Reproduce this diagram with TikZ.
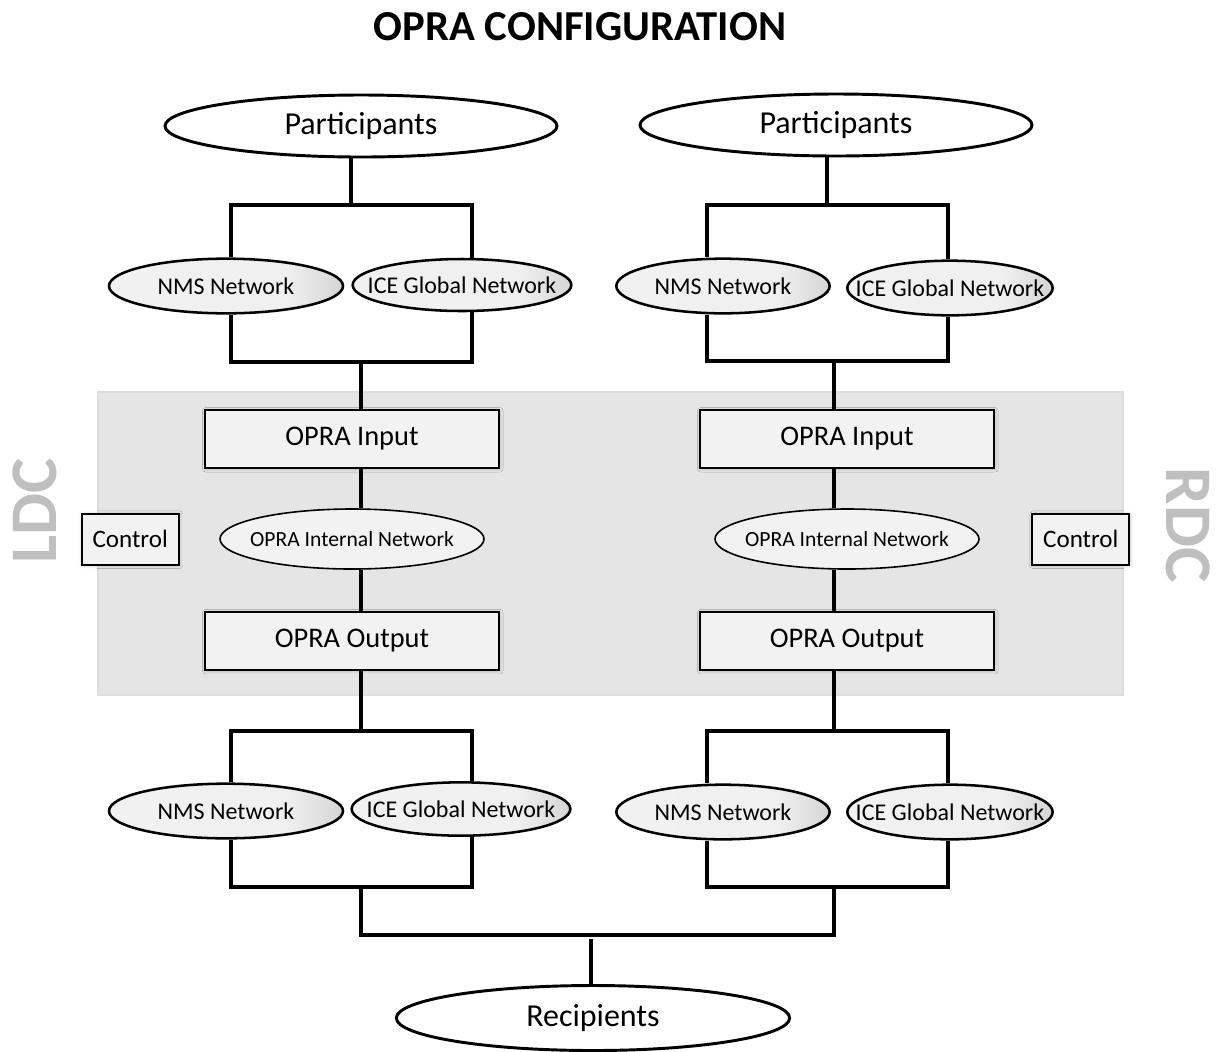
\documentclass[tikz,border=0pt]{standalone}
\usepackage{fontspec}
\setmainfont{Carlito}
\usepackage{tikz}
\usetikzlibrary{shapes,shadows.blur}
\usetikzlibrary{positioning}
\pgfdeclarehorizontalshading{netgrad}{100bp}{color(0bp)=(gray!11); color(25bp)=(gray!11); color(63bp)=(gray!12); color(70bp)=(gray!24); color(75bp)=(gray!34); color(100bp)=(gray!34)}
\tikzset{
	endstate/.style={
		ellipse,
		draw=black,
		line width=2.2pt,
		fill=white,
		inner xsep=-20pt,
		font=\fontsize{24}{28}\selectfont,
	},
	netstate/.style={
		ellipse,
		draw=black,
		line width=1.9pt,
		shading=netgrad,
		inner xsep=-20pt,
		minimum height=41pt,
		font=\fontsize{18}{21}\selectfont,
	},
	intstate/.style={
		ellipse,
		draw=black,
		line width=1.2pt,
		fill=gray!10,
		inner xsep=-30pt,
		minimum width=198pt,
		minimum height=45pt,
		font=\fontsize{16.2}{19}\selectfont,
	},
	boxstate/.style={
		rectangle,
		draw=black,
		line width=1.5pt,
		fill=gray!10,
		minimum width=220.5pt,
		minimum height=43.5pt,
		blur shadow={shadow xshift=0.6pt, shadow yshift=-0.6pt, shadow blur radius=2.5pt, shadow opacity=25},
		font=\fontsize{21.3}{25}\selectfont,
	},
	ctrlstate/.style={
		rectangle,
		draw=black,
		line width=1.5pt,
		fill=gray!10,
		minimum width=72.75pt,
		minimum height=38.25pt,
		blur shadow={shadow xshift=0.6pt, shadow yshift=-0.6pt, shadow blur radius=2.5pt, shadow opacity=25},
		font=\fontsize{18.8}{22}\selectfont,
	},
	wire/.style={
		line width=2.3pt,
		draw=black,
	},
}

\begin{document}
\begin{tikzpicture}[x=0.75pt,y=-0.75pt]
	
	\useasboundingbox (0,0) rectangle (1224,1051);
	
	% data centre band
	\node[rectangle, draw=gray!27, line width=0.8pt, fill=gray!20,
	minimum width=768.75pt, minimum height=227.25pt] (DC) at (610.5,543.5) {};
	
	\node[font=\fontsize{32}{36}\selectfont\bfseries] (TITLE) at (580,27) {OPRA CONFIGURATION};
	
	\node[rotate=90, text=gray!50, font=\fontsize{50}{54}\selectfont\bfseries] (LDC) at (35,511) {LDC};
	\node[rotate=-90, text=gray!50, font=\fontsize{50}{54}\selectfont\bfseries] (RDC) at (1188,525) {RDC};
	
	% left side
	\node[endstate, minimum width=294pt, minimum height=46.5pt] (PARTL) at (361,126) {Participants};
	
	\node[netstate, minimum width=175.5pt] (NMSLT) at (226,286) {NMS Network};
	\node[netstate, minimum width=164pt, minimum height=39pt] (ICELT) at (462,285) {ICE Global Network};
	
	\node[boxstate] (INL) at (352,439) {OPRA Input};
	
	\node[intstate,  
	below=52.5pt of INL, 
	anchor=center] (INTL) {OPRA Internal Network};
	
	\node[boxstate,  
	below=53.25pt of INTL, 
	anchor=center] (OUTL) {OPRA Output};
	
	\node[ctrlstate,  
	left=66.75pt of INTL, 
	anchor=center] (CTRLL) {Control};
	
	\node[netstate, minimum width=175.5pt] (NMSLB) at (226,811) {NMS Network};
	\node[netstate, minimum width=164pt, minimum height=40pt] (ICELB) at (461,809) {ICE Global Network};
	
	% right side
	\node[endstate, minimum width=294pt, minimum height=46.5pt] (PARTR) at (836,125) {Participants};
	
	\node[netstate, minimum width=160pt] (NMSRT) at (723,286) {NMS Network};
	\node[netstate, minimum width=154pt] (ICERT) at (950,288) {ICE Global Network};
	
	\node[boxstate] (INR) at (847,439) {OPRA Input};
	
	\node[intstate,  
	below=52.5pt of INR, 
	anchor=center] (INTR) {OPRA Internal Network};
	
	\node[boxstate,  
	below=53.25pt of INTR, 
	anchor=center] (OUTR) {OPRA Output};
	
	\node[ctrlstate,  
	right=75.75pt of INTR, 
	anchor=center] (CTRLR) {Control};
	
	\node[netstate, minimum width=160pt] (NMSRB) at (723,812) {NMS Network};
	\node[netstate, minimum width=154pt] (ICERB) at (950,812) {ICE Global Network};
	
	\node[endstate, minimum width=295pt, minimum height=48.75pt] (RECIP) at (593,1018) {Recipients};
	
	% joints
	\coordinate (JTL) at (351,205);
	\coordinate (TLA) at (231,205);
	\coordinate (TLB) at (472,205);
	\coordinate (MLA) at (231,362);
	\coordinate (MLB) at (472,362);
	\coordinate (MLJ) at (361,362);
	\coordinate (BLJ) at (361,731);
	\coordinate (BLA) at (231,731);
	\coordinate (BLB) at (472,731);
	\coordinate (CLA) at (231,887);
	\coordinate (CLB) at (472,887);
	\coordinate (CLJ) at (361,887);
	\coordinate (DLJ) at (361,935);
	
	\coordinate (JTR) at (827,205);
	\coordinate (TRA) at (707,205);
	\coordinate (TRB) at (948,205);
	\coordinate (MRA) at (707,361);
	\coordinate (MRB) at (948,361);
	\coordinate (MRJ) at (834,361);
	\coordinate (BRJ) at (834,731);
	\coordinate (BRA) at (707,731);
	\coordinate (BRB) at (948,731);
	\coordinate (CRA) at (707,887);
	\coordinate (CRB) at (948,887);
	\coordinate (CRJ) at (834,887);
	\coordinate (DRJ) at (834,935);
	
	\coordinate (RJ) at (591,939);
	
	\draw[wire] (PARTL.south -| JTL) -- (JTL);
	\draw[wire] (NMSLT.north -| TLA) -- (TLA) -- (TLB) -- (ICELT.north -| TLB);
	\draw[wire] (NMSLT.south -| MLA) -- (MLA) -- (MLB) -- (ICELT.south -| MLB);
	\draw[wire] (MLJ) -- (INL.north -| MLJ);
	\draw[wire] (INL.south -| MLJ) -- (INTL.north -| MLJ);
	\draw[wire] (INTL.south -| MLJ) -- (OUTL.north -| MLJ);
	\draw[wire] (OUTL.south -| MLJ) -- (BLJ);
	\draw[wire] (NMSLB.north -| BLA) -- (BLA) -- (BLB) -- (ICELB.north -| BLB);
	\draw[wire] (NMSLB.south -| CLA) -- (CLA) -- (CLB) -- (ICELB.south -| CLB);
	
	\draw[wire] (PARTR.south -| JTR) -- (JTR);
	\draw[wire] (NMSRT.north -| TRA) -- (TRA) -- (TRB) -- (ICERT.north -| TRB);
	\draw[wire] (NMSRT.south -| MRA) -- (MRA) -- (MRB) -- (ICERT.south -| MRB);
	\draw[wire] (MRJ) -- (INR.north -| MRJ);
	\draw[wire] (INR.south -| MRJ) -- (INTR.north -| MRJ);
	\draw[wire] (INTR.south -| MRJ) -- (OUTR.north -| MRJ);
	\draw[wire] (OUTR.south -| MRJ) -- (BRJ);
	\draw[wire] (NMSRB.north -| BRA) -- (BRA) -- (BRB) -- (ICERB.north -| BRB);
	\draw[wire] (NMSRB.south -| CRA) -- (CRA) -- (CRB) -- (ICERB.south -| CRB);
	
	\draw[wire] (CLJ) -- (DLJ) -- (DRJ) -- (CRJ);
	\draw[wire] (RECIP.north -| RJ) -- (RJ);
	
\end{tikzpicture}
\end{document}
